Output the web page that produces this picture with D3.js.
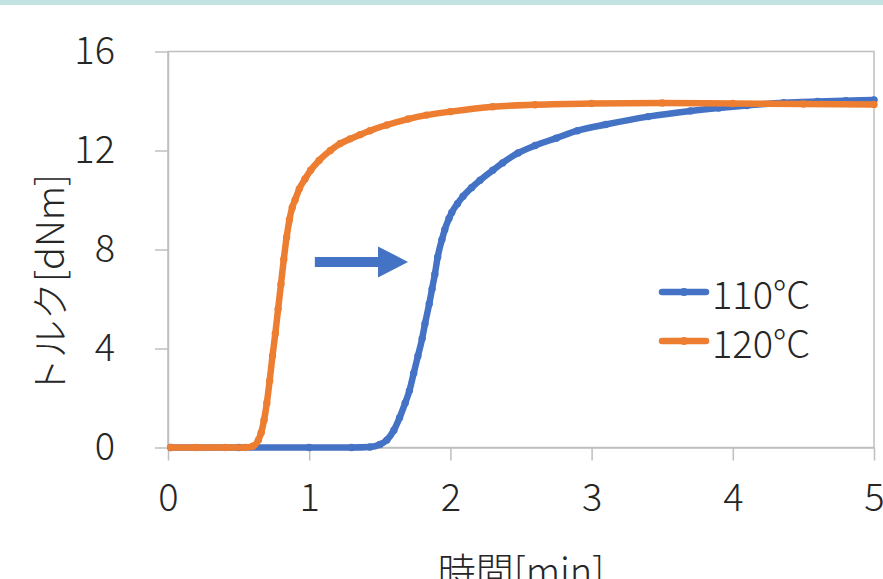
<!DOCTYPE html>
<html>
<head>
<meta charset="utf-8">
<script src="https://cdn.jsdelivr.net/npm/d3@7"></script>
<style>
	html, body { margin: 0; padding: 0; background: #fff; }
	svg { display: block; }
	text { font-family: "Noto Sans CJK JP", "Noto Sans", sans-serif; font-weight: 300; fill: #262626; }
</style>
</head>
<body>
<svg id="chart" width="883" height="579"></svg>
<script>

// 110°C
var time110 = [0.02, 0.5, 1.0, 1.3, 1.43, 1.5, 1.55, 1.6, 1.64, 1.68, 1.71, 1.74, 1.77, 1.8, 1.82, 1.85, 1.87, 1.89, 1.91, 1.94, 1.96, 1.99, 2.01, 2.05, 2.09, 2.15, 2.21, 2.3, 2.37, 2.48, 2.6, 2.75, 2.9, 3.1, 3.4, 3.7, 3.9, 4.1, 4.36, 4.6, 4.8, 5.0];
var torque110 = [0, 0, 0, 0, 0.02, 0.12, 0.3, 0.7, 1.2, 1.8, 2.3, 3.0, 3.7, 4.4, 5.0, 5.8, 6.4, 7.0, 7.7, 8.4, 8.8, 9.25, 9.5, 9.85, 10.15, 10.5, 10.8, 11.2, 11.5, 11.9, 12.2, 12.5, 12.8, 13.05, 13.37, 13.6, 13.72, 13.82, 13.93, 13.98, 14.01, 14.04];

// 120°C
var time120 = [0.02, 0.2, 0.4, 0.55, 0.6, 0.64, 0.66, 0.68, 0.7, 0.72, 0.74, 0.76, 0.78, 0.8, 0.82, 0.84, 0.86, 0.88, 0.9, 0.93, 0.97, 1.01, 1.07, 1.15, 1.22, 1.29, 1.36, 1.43, 1.55, 1.7, 1.83, 2.0, 2.3, 2.6, 3.0, 3.5, 4.0, 4.5, 5.0];
var torque120 = [0, 0, 0, 0, 0.05, 0.3, 0.6, 1.1, 1.8, 2.7, 3.7, 4.6, 5.6, 6.6, 7.6, 8.5, 9.2, 9.7, 10.0, 10.45, 10.85, 11.2, 11.6, 12.0, 12.28, 12.47, 12.64, 12.8, 13.03, 13.27, 13.43, 13.57, 13.77, 13.85, 13.9, 13.92, 13.9, 13.88, 13.86];

var seriesNames = ['110°C', '120°C'];
var seriesColors = ['#4472C4', '#ED7D31'];

var xTicks = [0, 1, 2, 3, 4, 5];
var yTicks = [0, 4, 8, 12, 16];

var xTitle = '時間[min]';
var yTitle = 'トルク[dNm]';

// arrow annotation, in data units
var arrowFrom = [1.04, 7.5];
var arrowTo = [1.70, 7.5];

var svg = d3.select('#chart');
var W = 883, H = 579;
var plotLeft = 168, plotRight = 874, plotTop = 51.5, plotBottom = 447.5;
var grey = '#bfbfbf';

svg.append('rect').attr('x', 0).attr('y', 0).attr('width', W).attr('height', 5).attr('fill', '#c3e3e1');

var x = d3.scaleLinear().domain([0, 5]).range([plotLeft, plotRight]);
var y = d3.scaleLinear().domain([0, 16]).range([plotBottom, plotTop]);

// plot border
svg.append('rect')
	.attr('x', plotLeft).attr('y', plotTop)
	.attr('width', plotRight - plotLeft).attr('height', plotBottom - plotTop)
	.attr('fill', 'none').attr('stroke', grey).attr('stroke-width', 1.5);

var gx = svg.append('g').attr('transform', 'translate(0,' + plotBottom + ')')
	.call(d3.axisBottom(x).tickValues(xTicks).tickFormat(d3.format('d')).tickSize(13).tickSizeOuter(0).tickPadding(24));
var gy = svg.append('g').attr('transform', 'translate(' + plotLeft + ',0)')
	.call(d3.axisLeft(y).tickValues(yTicks).tickFormat(d3.format('d')).tickSize(13).tickSizeOuter(0).tickPadding(40));

[gx, gy].forEach(function(g) {
	g.select('.domain').attr('stroke', grey).attr('stroke-width', 1.5);
	g.selectAll('.tick line').attr('stroke', grey).attr('stroke-width', 1.5);
	g.selectAll('.tick text').attr('fill', '#262626').style('font-size', '38px').style('font-family', null);
});

// titles
svg.append('text')
	.attr('x', (plotLeft + plotRight) / 2).attr('y', 585)
	.attr('text-anchor', 'middle').style('font-size', '38px')
	.text(xTitle);

svg.append('text')
	.attr('transform', 'translate(64,285) rotate(-90)')
	.attr('text-anchor', 'middle').style('font-size', '38px')
	.text(yTitle);

// series
var line = d3.line().x(function(d) { return x(d[0]); }).y(function(d) { return y(d[1]); }).curve(d3.curveMonotoneX);

var data = [d3.zip(time110, torque110), d3.zip(time120, torque120)];

data.forEach(function(pts, i) {
	var g = svg.append('g');
	g.append('path').datum(pts)
		.attr('d', line)
		.attr('fill', 'none')
		.attr('stroke', seriesColors[i])
		.attr('stroke-width', 6.5)
		.attr('stroke-linejoin', 'round')
		.attr('stroke-linecap', 'round');
	g.selectAll('circle').data(pts).enter().append('circle')
		.attr('cx', function(d) { return x(d[0]); })
		.attr('cy', function(d) { return y(d[1]); })
		.attr('r', 3.7)
		.attr('fill', seriesColors[i]);
});

// arrow
var ax0 = x(arrowFrom[0]), ax1 = x(arrowTo[0]), ay = y(arrowFrom[1]);
var headLen = 30, headHalf = 15.5, shaftHalf = 5;
svg.append('path')
	.attr('d', 'M' + ax0 + ',' + (ay - shaftHalf) + 'L' + (ax1 - headLen) + ',' + (ay - shaftHalf) +
		'L' + (ax1 - headLen) + ',' + (ay - headHalf) + 'L' + ax1 + ',' + ay +
		'L' + (ax1 - headLen) + ',' + (ay + headHalf) + 'L' + (ax1 - headLen) + ',' + (ay + shaftHalf) +
		'L' + ax0 + ',' + (ay + shaftHalf) + 'Z')
	.attr('fill', '#4472C4');

// legend
var legend = svg.append('g');
seriesNames.forEach(function(name, i) {
	var ly = 292 + i * 49;
	legend.append('line')
		.attr('x1', 662).attr('x2', 706).attr('y1', ly).attr('y2', ly)
		.attr('stroke', seriesColors[i]).attr('stroke-width', 6.5).attr('stroke-linecap', 'round');
	legend.append('circle').attr('cx', 684).attr('cy', ly).attr('r', 4).attr('fill', seriesColors[i]);
	legend.append('text')
		.attr('x', 712).attr('y', ly + 17)
		.style('font-size', '38px')
		.text(name);
});

</script>
</body>
</html>
